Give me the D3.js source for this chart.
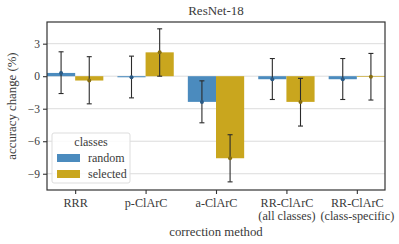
<!DOCTYPE html>
<html>
<head>
<meta charset="utf-8">
<script src="https://cdn.jsdelivr.net/npm/d3@7"></script>
<style>
  body { margin: 0; background: #fff; }
</style>
</head>
<body>
<svg id="chart" width="399" height="244"></svg>
<script>
// data
const methods = ["RRR", "p-ClArC", "a-ClArC", "RR-ClArC\n(all classes)", "RR-ClArC\n(class-specific)"];
const classes = ["random", "selected"];
const randomMean = [0.3, -0.1, -2.37, -0.28, -0.28];
const randomLow = [-1.6, -2.0, -4.3, -2.15, -2.15];
const randomHigh = [2.25, 1.85, -0.43, 1.63, 1.63];
const selectedMean = [-0.4, 2.2, -7.57, -2.37, -0.06];
const selectedLow = [-2.55, 0.0, -9.75, -4.6, -2.2];
const selectedHigh = [1.8, 4.37, -5.4, -0.2, 2.1];
const yTicks = [-9, -6, -3, 0, 3];

const colors = { random: "#4b8bbe", selected: "#c9a61e" };
const pointColors = { random: "#2a5a85", selected: "#866d10" };
const FONT = "'Liberation Serif', 'DejaVu Serif', serif";
const TXT = "#3a3a3a";

const svg = d3.select("#chart").attr("font-family", FONT);
const margin = { top: 22, right: 14, bottom: 54, left: 47 };
const width = 399 - margin.left - margin.right;
const height = 244 - margin.top - margin.bottom;

const g = svg.append("g").attr("transform", `translate(${margin.left},${margin.top})`);

const x = d3.scaleLinear().domain([-0.4, methods.length - 0.6]).range([0, width]);
const y = d3.scaleLinear().domain([-10.5, 5]).range([height, 0]);
const barW = x(0.4) - x(0);
const offset = d3.scaleOrdinal().domain(classes).range([-0.2, 0.2]);

// grid
g.selectAll(".grid")
    .data(yTicks)
    .enter()
    .append("line")
    .attr("x1", 0)
    .attr("x2", width)
    .attr("y1", (d) => y(d))
    .attr("y2", (d) => y(d))
    .attr("stroke", "#dcdcdc")
    .attr("stroke-width", 1);

const rows = [];
methods.forEach((m, i) => {
    rows.push({ cls: "random", i, mean: randomMean[i], lo: randomLow[i], hi: randomHigh[i] });
    rows.push({ cls: "selected", i, mean: selectedMean[i], lo: selectedLow[i], hi: selectedHigh[i] });
});

// bars
g.selectAll(".bar")
    .data(rows)
    .enter()
    .append("rect")
    .attr("x", (d) => x(d.i + offset(d.cls)) - barW / 2)
    .attr("width", barW)
    .attr("y", (d) => y(Math.max(0, d.mean)))
    .attr("height", (d) => Math.abs(y(d.mean) - y(0)))
    .attr("fill", (d) => colors[d.cls]);

// error bars
const eb = g.selectAll(".err").data(rows).enter().append("g");
eb.append("line")
    .attr("x1", (d) => x(d.i + offset(d.cls)))
    .attr("x2", (d) => x(d.i + offset(d.cls)))
    .attr("y1", (d) => y(d.lo))
    .attr("y2", (d) => y(d.hi))
    .attr("stroke", "#2b2b2b")
    .attr("stroke-width", 1.1);
["lo", "hi"].forEach((k) => {
    eb.append("line")
        .attr("x1", (d) => x(d.i + offset(d.cls)) - 2.5)
        .attr("x2", (d) => x(d.i + offset(d.cls)) + 2.5)
        .attr("y1", (d) => y(d[k]))
        .attr("y2", (d) => y(d[k]))
        .attr("stroke", "#2b2b2b")
        .attr("stroke-width", 1.1);
});
eb.append("circle")
    .attr("cx", (d) => x(d.i + offset(d.cls)))
    .attr("cy", (d) => y(d.mean))
    .attr("r", 2)
    .attr("fill", (d) => pointColors[d.cls]);

// frame
g.append("rect")
    .attr("width", width)
    .attr("height", height)
    .attr("fill", "none")
    .attr("stroke", "#333")
    .attr("stroke-width", 1.2);

// y axis
const yAxis = g.append("g").call(
    d3.axisLeft(y).tickValues(yTicks).tickSize(4).tickPadding(3)
        .tickFormat((d) => (d < 0 ? "\u2212" + Math.abs(d) : d))
);
yAxis.attr("font-family", FONT);
yAxis.select(".domain").remove();
yAxis.selectAll("line").attr("stroke", "#333").attr("stroke-width", 1.1);
yAxis.selectAll("text").attr("font-size", 11.5).attr("fill", TXT);

// x axis
const xAxis = g.append("g")
    .attr("transform", `translate(0,${height})`)
    .call(d3.axisBottom(x).tickValues(d3.range(methods.length)).tickSize(4).tickFormat(""));
xAxis.attr("font-family", FONT);
xAxis.select(".domain").remove();
xAxis.selectAll("line").attr("stroke", "#333").attr("stroke-width", 1.1);
xAxis.selectAll(".tick").each(function (d) {
    const lines = methods[d].split("\n");
    const t = d3.select(this).append("text")
        .attr("text-anchor", "middle")
        .attr("font-size", 12.2)
        .attr("fill", TXT)
        .attr("y", 17);
    lines.forEach((l, k) => {
        t.append("tspan").attr("x", 0).attr("dy", k === 0 ? 0 : 13).text(l);
    });
});

// labels
svg.append("text")
    .attr("x", margin.left + width / 2)
    .attr("y", 15)
    .attr("text-anchor", "middle")
    .attr("font-size", 13)
    .attr("fill", TXT)
    .text("ResNet-18");
svg.append("text")
    .attr("x", margin.left + width / 2)
    .attr("y", 236)
    .attr("text-anchor", "middle")
    .attr("font-size", 12.8)
    .attr("fill", TXT)
    .text("correction method");
svg.append("text")
    .attr("transform", `translate(16,${margin.top + height / 2}) rotate(-90)`)
    .attr("text-anchor", "middle")
    .attr("font-size", 12.8)
    .attr("fill", TXT)
    .text("accuracy change (%)");

// legend
const lg = svg.append("g").attr("transform", "translate(52,133)");
lg.append("rect")
    .attr("width", 78)
    .attr("height", 50)
    .attr("rx", 2)
    .attr("fill", "#fff")
    .attr("fill-opacity", 0.85)
    .attr("stroke", "#ddd");
lg.append("text").attr("x", 39).attr("y", 13).attr("text-anchor", "middle")
    .attr("font-size", 12).attr("fill", TXT).text("classes");
classes.forEach((c, k) => {
    lg.append("rect")
        .attr("x", 5)
        .attr("y", 21 + k * 16)
        .attr("width", 23)
        .attr("height", 8)
        .attr("fill", colors[c]);
    lg.append("text")
        .attr("x", 36)
        .attr("y", 29 + k * 16)
        .attr("font-size", 12)
        .attr("fill", TXT)
        .text(c);
});
</script>
</body>
</html>
